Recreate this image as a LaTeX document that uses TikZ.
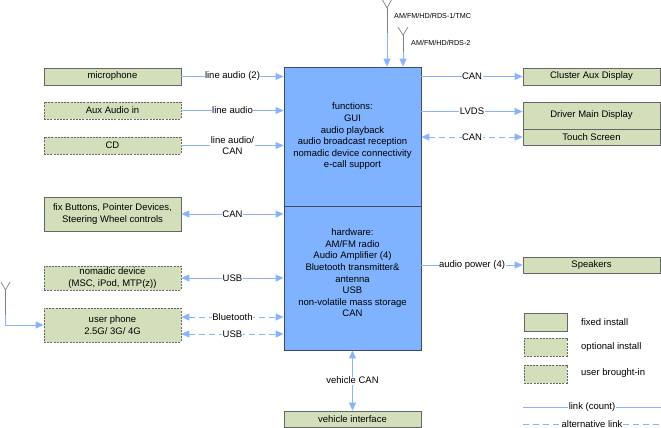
\documentclass[tikz,border=0pt]{standalone}
\usepackage{fontspec}
\setmainfont{Liberation Sans}
\usetikzlibrary{arrows.meta}
\definecolor{boxgreen}{HTML}{D3DFBA}
\definecolor{boxborder}{HTML}{666666}
\definecolor{mainblue}{HTML}{80B3FF}
\definecolor{mainborder}{HTML}{3F4B63}
\definecolor{linkblue}{HTML}{88B4FF}
\definecolor{antgray}{HTML}{808080}
\tikzset{
  fixbox/.style={draw=boxborder, fill=boxgreen, line width=0.8pt, minimum width=137pt, inner sep=1pt, align=center, font=\fontsize{9.5}{11.6}\selectfont},
  optbox/.style={fixbox, dash pattern=on 2pt off 1.2pt},
  mainbox/.style={draw=mainborder, fill=mainblue, line width=0.9pt, minimum width=137pt, inner sep=0pt},
  link/.style={draw=linkblue, line width=1pt, -{Triangle[length=8pt,width=7pt,fill=linkblue]}},
  linkboth/.style={draw=linkblue, line width=1pt, {Triangle[length=8pt,width=7pt,fill=linkblue]}-{Triangle[length=8pt,width=7pt,fill=linkblue]}},
  altlink/.style={linkboth, dash pattern=on 6pt off 4pt},
  plainlink/.style={draw=linkblue, line width=1pt},
  lbl/.style={fill=white, inner sep=0.5pt, align=center, font=\fontsize{9.5}{11.6}\selectfont},
  antenna/.style={draw=antgray, line width=0.7pt},
  small/.style={font=\fontsize{7.2}{8}\selectfont, inner sep=0pt, anchor=west},
}
\begin{document}
\begin{tikzpicture}[x=1pt, y=-1pt]
\useasboundingbox (0,0) rectangle (661,428);
% main unit
\node[mainbox, minimum height=139pt] (mainf) at (352.5,136.5) {};
\node[mainbox, minimum height=144pt] (mainh) at (352.5,278) {};
\node[align=center, font=\fontsize{9.5}{11.6}\selectfont] (ftext) at (352.5,136.5) {functions:\\GUI\\audio playback\\audio broadcast reception\\nomadic device connectivity\\e-call support};
\node[align=center, font=\fontsize{9.5}{11.6}\selectfont] (htext) at (352.5,273) {hardware:\\AM/FM radio\\Audio Amplifier (4)\\Bluetooth transmitter\&\\antenna\\USB\\non-volatile mass storage\\CAN};
% left boxes
\node[fixbox, minimum height=17pt] (mic) at (112.5,76.5) {microphone};
\node[optbox, minimum height=17pt] (aux) at (112.5,110.5) {Aux Audio in};
\node[optbox, minimum height=17pt] (cd) at (112.5,145.5) {CD};
\node[fixbox, minimum height=34pt] (fix) at (112.5,214) {fix Buttons, Pointer Devices,\\Steering Wheel controls};
\node[optbox, minimum height=24pt] (nomadic) at (112.5,278) {nomadic device\\(MSC, iPod, MTP(z))};
\node[optbox, minimum height=34pt] (phone) at (112.5,325) {user phone\\2.5G/ 3G/ 4G};
% right boxes
\node[fixbox, minimum height=17pt] (cluster) at (591.5,76.5) {Cluster Aux Display};
\node[fixbox, minimum height=27pt] (driver) at (591.5,115.5) {Driver Main Display};
\node[fixbox, minimum height=16pt] (touch) at (591.5,137) {Touch Screen};
\node[fixbox, minimum height=16pt] (speakers) at (591.5,265) {Speakers};
\node[fixbox, minimum height=16pt] (vehicle) at (352.5,419) {vehicle interface};
% left connectors
\draw[link] (mic.east) -- node[lbl] {line audio (2)} (mic.east -| mainf.west);
\draw[link] (aux.east) -- node[lbl] {line audio} (aux.east -| mainf.west);
\draw[link] (cd.east) -- node[lbl] {line audio/\\CAN} (cd.east -| mainf.west);
\draw[linkboth] (fix.east) -- node[lbl] {CAN} (fix.east -| mainh.west);
\draw[linkboth] (nomadic.east) -- node[lbl] {USB} (nomadic.east -| mainh.west);
\draw[altlink] ([yshift=8pt]phone.east) -- node[lbl] {Bluetooth} ([yshift=8pt]phone.east -| mainh.west);
\draw[altlink] ([yshift=-9pt]phone.east) -- node[lbl] {USB} ([yshift=-9pt]phone.east -| mainh.west);
% right connectors
\draw[link] (cluster.west -| mainf.east) -- node[lbl] {CAN} (cluster.west);
\draw[link] ([yshift=4pt]driver.west -| mainf.east) -- node[lbl] {LVDS} ([yshift=4pt]driver.west);
\draw[altlink] (touch.west -| mainf.east) -- node[lbl] {CAN} (touch.west);
\draw[link] (speakers.west -| mainh.east) -- node[lbl] {audio power (4)} (speakers.west);
\draw[linkboth] (mainh.south) -- node[lbl] {vehicle CAN} (vehicle.north);
% antenna 1
\coordinate (a1) at (387,8);
\coordinate (a1m) at (387,33);
\draw[antenna] (382,-1) -- (a1) -- (392,-1);
\draw[antenna] (a1) -- (a1m);
\draw[link] (a1m) -- (a1m |- mainf.north);
\node[small] (a1lbl) at (394,16) {AM/FM/HD/RDS-1/TMC};
% antenna 2
\coordinate (a2) at (403,35);
\coordinate (a2m) at (403,52);
\draw[antenna] (398,27) -- (a2) -- (408,27);
\draw[antenna] (a2) -- (a2m);
\draw[link] (a2m) -- (a2m |- mainf.north);
\node[small] (a2lbl) at (411,43) {AM/FM/HD/RDS-2};
% phone antenna
\coordinate (a3) at (5.5,290);
\coordinate (a3m) at (5.5,315);
\draw[antenna] (1,282) -- (a3) -- (10,282);
\draw[antenna] (a3) -- (a3m);
\draw[link] (a3m) |- (phone.west);
% legend
\node[fixbox, minimum width=43pt, minimum height=18pt] (lfix) at (545.5,322) {};
\node[optbox, minimum width=43pt, minimum height=18pt] (lopt) at (545.5,347) {};
\node[optbox, minimum width=43pt, minimum height=18pt] (luser) at (545.5,374) {};
\node[anchor=west, inner sep=0pt, font=\fontsize{9.5}{11.6}\selectfont] (tfix) at (581,322) {fixed install};
\node[anchor=west, inner sep=0pt, font=\fontsize{9.5}{11.6}\selectfont] (topt) at (581,347) {optional install};
\node[anchor=west, inner sep=0pt, font=\fontsize{9.5}{11.6}\selectfont] (tuser) at (581,373) {user brought-in};
\coordinate (l1a) at (523,407);
\coordinate (l1b) at (661,407);
\coordinate (l2a) at (523,424);
\coordinate (l2b) at (661,424);
\draw[plainlink] (l1a) -- node[lbl] {link (count)} (l1b);
\draw[plainlink, dash pattern=on 6pt off 4pt] (l2a) -- node[lbl] {alternative link} (l2b);
\end{tikzpicture}
\end{document}
